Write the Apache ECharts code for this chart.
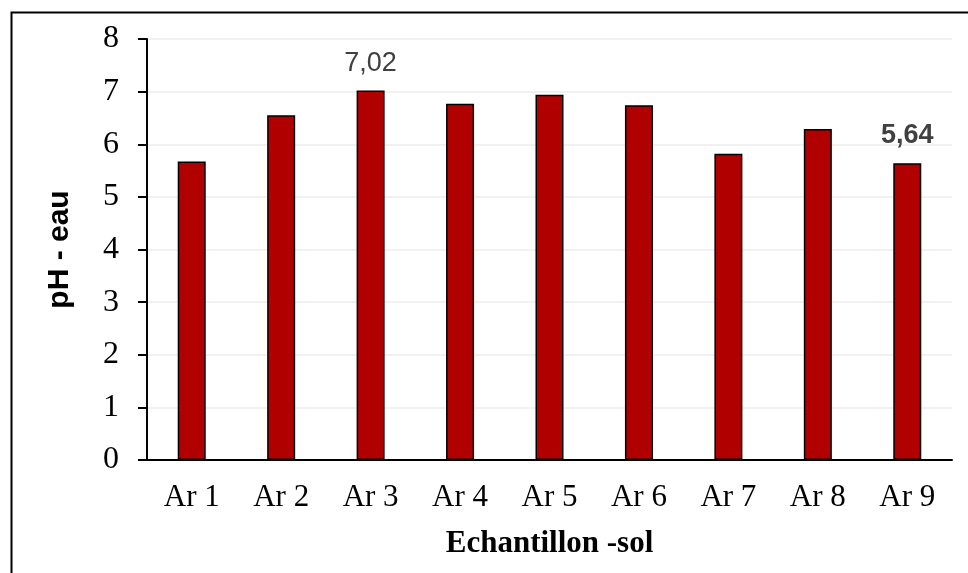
<!DOCTYPE html>
<html>
<head>
<meta charset="utf-8">
<script src="https://cdn.jsdelivr.net/npm/echarts@6/dist/echarts.min.js"></script>
<style>
html,body{margin:0;padding:0;background:#fff;}
#chart{width:968px;height:573px;}
</style>
</head>
<body>
<div id="chart"></div>
<script>
const categories = ['Ar 1','Ar 2','Ar 3','Ar 4','Ar 5','Ar 6','Ar 7','Ar 8','Ar 9'];
const phValues = [5.67, 6.55, 7.02, 6.77, 6.94, 6.74, 5.82, 6.29, 5.64];
const labelStyles = { 2: 'normal', 8: 'bold' }; // which bars carry a value label
const yTicks = [0, 1, 2, 3, 4, 5, 6, 7, 8];

const chart = echarts.init(document.getElementById('chart'), null, {renderer: 'canvas'});

const seriesData = phValues.map((v, i) => {
  const item = { value: v };
  if (labelStyles[i]) {
    item.label = {
      show: true,
      position: 'top',
      distance: 14,
      fontFamily: 'Liberation Sans, Arial, sans-serif',
      fontSize: 27,
      fontWeight: labelStyles[i],
      color: '#404040',
      formatter: p => p.value.toFixed(2).replace('.', ',')
    };
  }
  return item;
});

chart.setOption({
  animation: false,
  backgroundColor: '#ffffff',
  grid: { left: 147, right: 16, top: 39, bottom: 113, containLabel: false },
  xAxis: {
    type: 'category',
    data: categories,
    name: 'Echantillon -sol',
    nameLocation: 'middle',
    nameGap: 68,
    nameTextStyle: { fontFamily: 'Liberation Serif, serif', fontWeight: 'bold', fontSize: 31, color: '#000' },
    axisLine: { show: true, lineStyle: { color: '#000', width: 2 } },
    axisTick: { show: false },
    axisLabel: { fontFamily: 'Liberation Serif, serif', fontSize: 31, color: '#000', margin: 22 }
  },
  yAxis: {
    type: 'value',
    min: yTicks[0],
    max: yTicks[yTicks.length - 1],
    interval: 1,
    name: 'pH - eau',
    nameLocation: 'middle',
    nameRotate: 90,
    nameGap: 72,
    nameTextStyle: { fontFamily: 'Liberation Sans, Arial, sans-serif', fontWeight: 'bold', fontSize: 30, color: '#000' },
    axisLine: { show: true, lineStyle: { color: '#000', width: 2 } },
    axisTick: { show: true, length: 9, lineStyle: { color: '#000', width: 2 } },
    axisLabel: { fontFamily: 'Liberation Serif, serif', fontSize: 32, color: '#000', margin: 28 },
    splitLine: { show: true, lineStyle: { color: '#ececec', width: 1.5 } }
  },
  series: [{
    type: 'bar',
    data: seriesData,
    barWidth: 28,
    itemStyle: { color: '#B00000', borderColor: '#000', borderWidth: 1.5 }
  }],
  graphic: [{
    type: 'rect',
    left: 9, top: 10,
    shape: { width: 1000, height: 600 },
    style: { fill: 'none', stroke: '#000', lineWidth: 2 },
    silent: true
  }]
});
</script>
</body>
</html>
